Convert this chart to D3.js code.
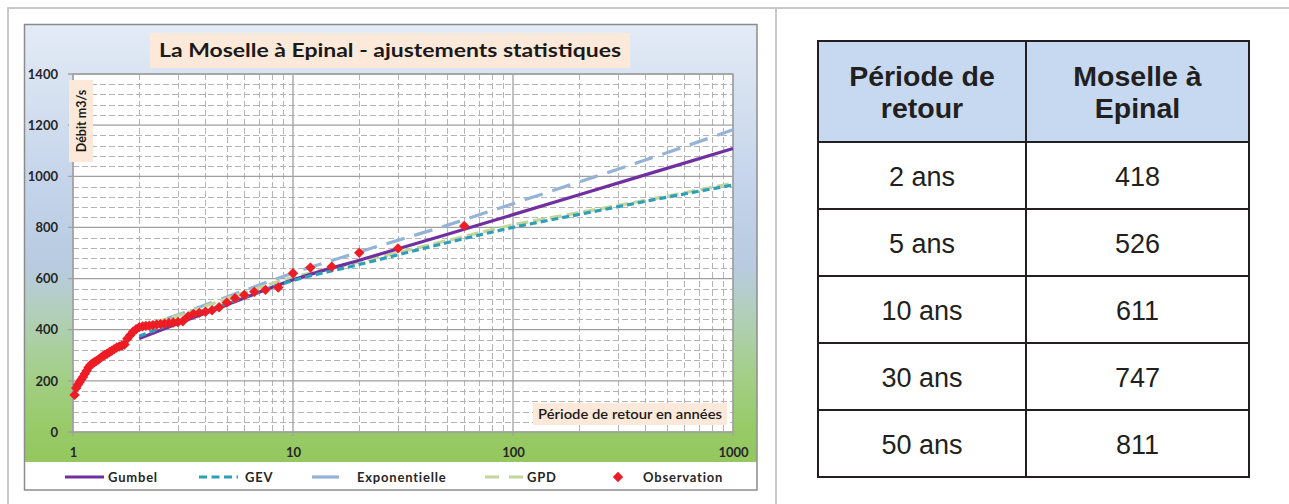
<!DOCTYPE html>
<html>
<head>
<meta charset="utf-8">
<script src="https://cdn.jsdelivr.net/npm/d3@7"></script>
<style>
  html, body { margin: 0; padding: 0; background: #fff; }
  svg { display: block; }
</style>
</head>
<body>
<div id="chart"></div>
<script>
// Fitted curves, read at these return periods (years)
const returnPeriods = [2, 3, 5, 10, 20, 50, 100, 200, 500, 1000];
const gumbel        = [366, 424, 497, 595, 672, 772, 850, 928, 1031, 1109];
const gev           = [375, 432, 502, 592, 655, 740, 800, 851, 918, 966];
const exponentielle = [410, 458, 528, 622, 704, 808, 893, 978, 1092, 1182];
const gpd           = [415, 455, 522, 605, 665, 748, 810, 858, 922, 973];

// Observed floods (return period, flow m3/s)
const obsPeriods = [60, 30, 20, 15, 12, 10, 8.571, 7.5, 6.667, 6,
  5.455, 5, 4.615, 4.286, 4, 3.75, 3.529, 3.333, 3.158, 3,
  2.857, 2.727, 2.609, 2.5, 2.4, 2.308, 2.222, 2.143, 2.069, 2,
  1.935, 1.875, 1.818, 1.765, 1.714, 1.667, 1.622, 1.579, 1.538, 1.5,
  1.463, 1.429, 1.395, 1.364, 1.333, 1.304, 1.277, 1.25, 1.224, 1.2,
  1.176, 1.154, 1.132, 1.111, 1.091, 1.071, 1.053, 1.034, 1.017];
const obsFlows = [806, 718, 701, 646, 643, 621, 565, 556, 548, 536,
  523, 506, 488, 476, 470, 466, 462, 452, 433, 430,
  428, 426, 424, 422, 420, 418, 416, 415, 413, 410,
  402, 392, 378, 365, 342, 338, 334, 330, 324, 318,
  312, 306, 301, 296, 290, 283, 278, 273, 268, 262,
  252, 240, 228, 215, 205, 195, 185, 172, 145];

const xTicks = [1, 10, 100, 1000];
const yTicks = [0, 200, 400, 600, 800, 1000, 1200, 1400];

// Table on the right
const tableHeader = [["Période de", "retour"], ["Moselle à", "Epinal"]];
const tablePeriods = ["2 ans", "5 ans", "10 ans", "30 ans", "50 ans"];
const tableValues = [418, 526, 611, 747, 811];

const width = 1289, height = 504;
const chartFont = "Lato, 'Open Sans', sans-serif";
const tableFont = "'Liberation Sans', Arial, sans-serif";

const svg = d3.select("#chart").append("svg")
    .attr("width", width)
    .attr("height", height)
    .attr("viewBox", [0, 0, width, height]);

// page frame lines
const frame = svg.append("g").attr("stroke", "#c8c8c8").attr("stroke-width", 2);
frame.append("line").attr("x1", 7).attr("x2", width).attr("y1", 8).attr("y2", 8);
frame.append("line").attr("x1", 8).attr("x2", 8).attr("y1", 7).attr("y2", height);
frame.append("line").attr("x1", 776).attr("x2", 776).attr("y1", 7).attr("y2", height);

// chart box with gradient
const defs = svg.append("defs");
const grad = defs.append("linearGradient")
    .attr("id", "bg").attr("x1", 0).attr("x2", 0).attr("y1", 0).attr("y2", 1);
[[0, "#e3ebf6"], [0.16, "#d6e1f0"], [0.38, "#c3d3ea"], [0.55, "#b8cbe1"],
 [0.66, "#b2cfbb"], [0.8, "#a3cf88"], [0.92, "#98ca68"], [1, "#94c75e"]]
    .forEach(([o, c]) => grad.append("stop").attr("offset", o).attr("stop-color", c));

const boxL = 24.5, boxT = 24.5, boxR = 757, boxB = 490;
svg.append("rect")
    .attr("x", boxL).attr("y", boxT)
    .attr("width", boxR - boxL).attr("height", 462 - boxT)
    .attr("fill", "url(#bg)");
svg.append("rect")
    .attr("x", boxL).attr("y", 462)
    .attr("width", boxR - boxL).attr("height", boxB - 462)
    .attr("fill", "#fff");
svg.append("rect")
    .attr("x", boxL).attr("y", boxT)
    .attr("width", boxR - boxL).attr("height", boxB - boxT)
    .attr("fill", "none").attr("stroke", "#8c8c8c").attr("stroke-width", 1.5);

// scales
const marginLeft = 73, marginRight = 733, marginTop = 74, marginBottom = 432;
const x = d3.scaleLog().domain([1, 1000]).range([marginLeft, marginRight]);
const y = d3.scaleLinear().domain([0, 1400]).range([marginBottom, marginTop]);

svg.append("rect")
    .attr("x", marginLeft).attr("y", marginTop)
    .attr("width", marginRight - marginLeft).attr("height", marginBottom - marginTop)
    .attr("fill", "#fff");

// minor grid
const minorX = x.ticks().filter(t => !xTicks.includes(t));
const minorY = d3.range(0, 1401, 40).filter(v => v % 200 !== 0);
const grid = svg.append("g").attr("stroke", "#b4b4b4").attr("stroke-width", 1)
    .attr("stroke-dasharray", "6,3").attr("shape-rendering", "crispEdges");
grid.selectAll(".vx").data(minorX).join("line")
    .attr("x1", d => Math.round(x(d)) + 0.5).attr("x2", d => Math.round(x(d)) + 0.5)
    .attr("y1", marginTop).attr("y2", marginBottom);
grid.selectAll(".hy").data(minorY).join("line")
    .attr("x1", marginLeft).attr("x2", marginRight)
    .attr("y1", d => Math.round(y(d)) + 0.5).attr("y2", d => Math.round(y(d)) + 0.5);

// major grid
const major = svg.append("g").attr("stroke", "#a0a0a0").attr("stroke-width", 1.3);
major.selectAll(".mx").data(xTicks).join("line")
    .attr("x1", d => x(d)).attr("x2", d => x(d))
    .attr("y1", marginTop).attr("y2", marginBottom + 4);
major.selectAll(".my").data(yTicks).join("line")
    .attr("x1", marginLeft - 5).attr("x2", marginRight)
    .attr("y1", d => y(d)).attr("y2", d => y(d));

// axes (labels)
svg.append("g")
    .attr("transform", `translate(${marginLeft - 5},0)`)
    .call(d3.axisLeft(y).tickValues(yTicks).tickFormat(d3.format("d")).tickSize(0).tickPadding(10))
    .call(g => g.select(".domain").remove())
    .call(g => g.selectAll(".tick text")
        .attr("font-family", chartFont).attr("font-weight", "bold")
        .attr("font-size", 13).attr("fill", "#262626"));

svg.append("g")
    .attr("transform", `translate(0,${marginBottom})`)
    .call(d3.axisBottom(x).tickValues(xTicks).tickFormat(d3.format("d")).tickSize(0).tickPadding(16))
    .call(g => g.select(".domain").remove())
    .call(g => g.selectAll(".tick text")
        .attr("font-family", chartFont).attr("font-weight", "bold")
        .attr("font-size", 13).attr("fill", "#262626"));

// plot frame
svg.append("rect")
    .attr("x", marginLeft).attr("y", marginTop)
    .attr("width", marginRight - marginLeft).attr("height", marginBottom - marginTop)
    .attr("fill", "none").attr("stroke", "#a0a0a0").attr("stroke-width", 1.3);

// fitted series
const series = [
  {name: "Exponentielle", values: exponentielle, color: "#95b3d7", dash: "19,10"},
  {name: "GPD", values: gpd, color: "#c3d69b", dash: "12,5"},
  {name: "Gumbel", values: gumbel, color: "#7030a0", dash: null},
  {name: "GEV", values: gev, color: "#2f9fb9", dash: "7,4"}
];

const line = d3.line()
    .x(d => x(d[0]))
    .y(d => y(d[1]))
    .curve(d3.curveMonotoneX);

svg.append("g")
    .attr("fill", "none")
    .attr("stroke-width", 3.2)
    .selectAll("path")
    .data(series)
    .join("path")
    .attr("stroke", d => d.color)
    .attr("stroke-dasharray", d => d.dash)
    .attr("d", d => line(returnPeriods.map((t, i) => [t, d.values[i]])));

// observations
const diamond = d3.symbol().type(d3.symbolSquare).size(54);
svg.append("g")
    .attr("fill", "#ee1c25")
    .selectAll("path")
    .data(obsPeriods.map((t, i) => [t, obsFlows[i]]))
    .join("path")
    .attr("d", diamond)
    .attr("transform", d => `translate(${x(d[0])},${y(d[1])}) rotate(45)`);

// title
svg.append("rect").attr("x", 150).attr("y", 33).attr("width", 480).attr("height", 35).attr("fill", "#fde9d9");
svg.append("text")
    .attr("x", 390).attr("y", 57)
    .attr("text-anchor", "middle")
    .attr("font-family", chartFont).attr("font-weight", "bold").attr("font-size", 19)
    .attr("fill", "#1a1a1a")
    .attr("textLength", 462).attr("lengthAdjust", "spacingAndGlyphs")
    .text("La Moselle à Epinal - ajustements statistiques");

// y axis label
svg.append("rect").attr("x", 69).attr("y", 80).attr("width", 24).attr("height", 82).attr("fill", "#fde9d9");
svg.append("text")
    .attr("transform", "translate(85.5,121) rotate(-90)")
    .attr("text-anchor", "middle")
    .attr("font-family", chartFont).attr("font-weight", "bold").attr("font-size", 12.5)
    .attr("fill", "#1a1a1a")
    .text("Débit m3/s");

// x axis label
svg.append("rect").attr("x", 533).attr("y", 403).attr("width", 194).attr("height", 22).attr("fill", "#fde9d9");
svg.append("text")
    .attr("x", 630).attr("y", 418.5)
    .attr("text-anchor", "middle")
    .attr("font-family", chartFont).attr("font-weight", 600).attr("font-size", 12.5)
    .attr("fill", "#1a1a1a")
    .attr("textLength", 184).attr("lengthAdjust", "spacingAndGlyphs")
    .text("Période de retour en années");

// legend
const legendItems = [
  {name: "Gumbel", color: "#7030a0", dash: null, x0: 65, x1: 104, tx: 108},
  {name: "GEV", color: "#2f9fb9", dash: "8,4.5", x0: 199, x1: 238, tx: 245},
  {name: "Exponentielle", color: "#95b3d7", dash: "27,100", x0: 312, x1: 339, tx: 357},
  {name: "GPD", color: "#c3d69b", dash: "14,10", x0: 485, x1: 523, tx: 527},
];
const legend = svg.append("g");
legend.selectAll("line").data(legendItems).join("line")
    .attr("x1", d => d.x0).attr("x2", d => d.x1)
    .attr("y1", 477).attr("y2", 477)
    .attr("stroke", d => d.color).attr("stroke-width", 3.2)
    .attr("stroke-dasharray", d => d.dash);
legend.append("path")
    .attr("d", diamond)
    .attr("fill", "#ee1c25")
    .attr("transform", "translate(618,477) rotate(45)");
legend.selectAll("text")
    .data([...legendItems.map(d => [d.name, d.tx]), ["Observation", 643]])
    .join("text")
    .attr("x", d => d[1]).attr("y", 481.5)
    .attr("font-family", chartFont).attr("font-weight", "bold").attr("font-size", 13)
    .attr("letter-spacing", 0.8)
    .attr("fill", "#262626")
    .text(d => d[0]);

// table
const colX = [818, 1026, 1249];
const rowY = [41, 142, 209, 276, 343, 410, 477];
const table = svg.append("g").attr("font-family", tableFont).attr("fill", "#231f20");
table.append("rect")
    .attr("x", colX[0]).attr("y", rowY[0])
    .attr("width", colX[2] - colX[0]).attr("height", rowY[1] - rowY[0])
    .attr("fill", "#c6d9f0");

tableHeader.forEach((lines, c) => {
  const cx = (colX[c] + colX[c + 1]) / 2;
  lines.forEach((t, k) => {
    table.append("text")
        .attr("x", cx).attr("y", 86 + k * 32)
        .attr("text-anchor", "middle")
        .attr("font-weight", "bold").attr("font-size", 28.5)
        .text(t);
  });
});

tablePeriods.forEach((p, i) => {
  const cy = (rowY[i + 1] + rowY[i + 2]) / 2 + 10;
  table.append("text")
      .attr("x", (colX[0] + colX[1]) / 2).attr("y", cy)
      .attr("text-anchor", "middle").attr("font-size", 27)
      .text(p);
  table.append("text")
      .attr("x", (colX[1] + colX[2]) / 2).attr("y", cy)
      .attr("text-anchor", "middle").attr("font-size", 27)
      .text(tableValues[i]);
});

const borders = table.append("g").attr("stroke", "#231f20").attr("stroke-width", 2);
rowY.forEach(yy => borders.append("line")
    .attr("x1", colX[0] - 1).attr("x2", colX[2] + 1).attr("y1", yy).attr("y2", yy));
colX.forEach(xx => borders.append("line")
    .attr("x1", xx).attr("x2", xx).attr("y1", rowY[0]).attr("y2", rowY[rowY.length - 1]));
</script>
</body>
</html>
